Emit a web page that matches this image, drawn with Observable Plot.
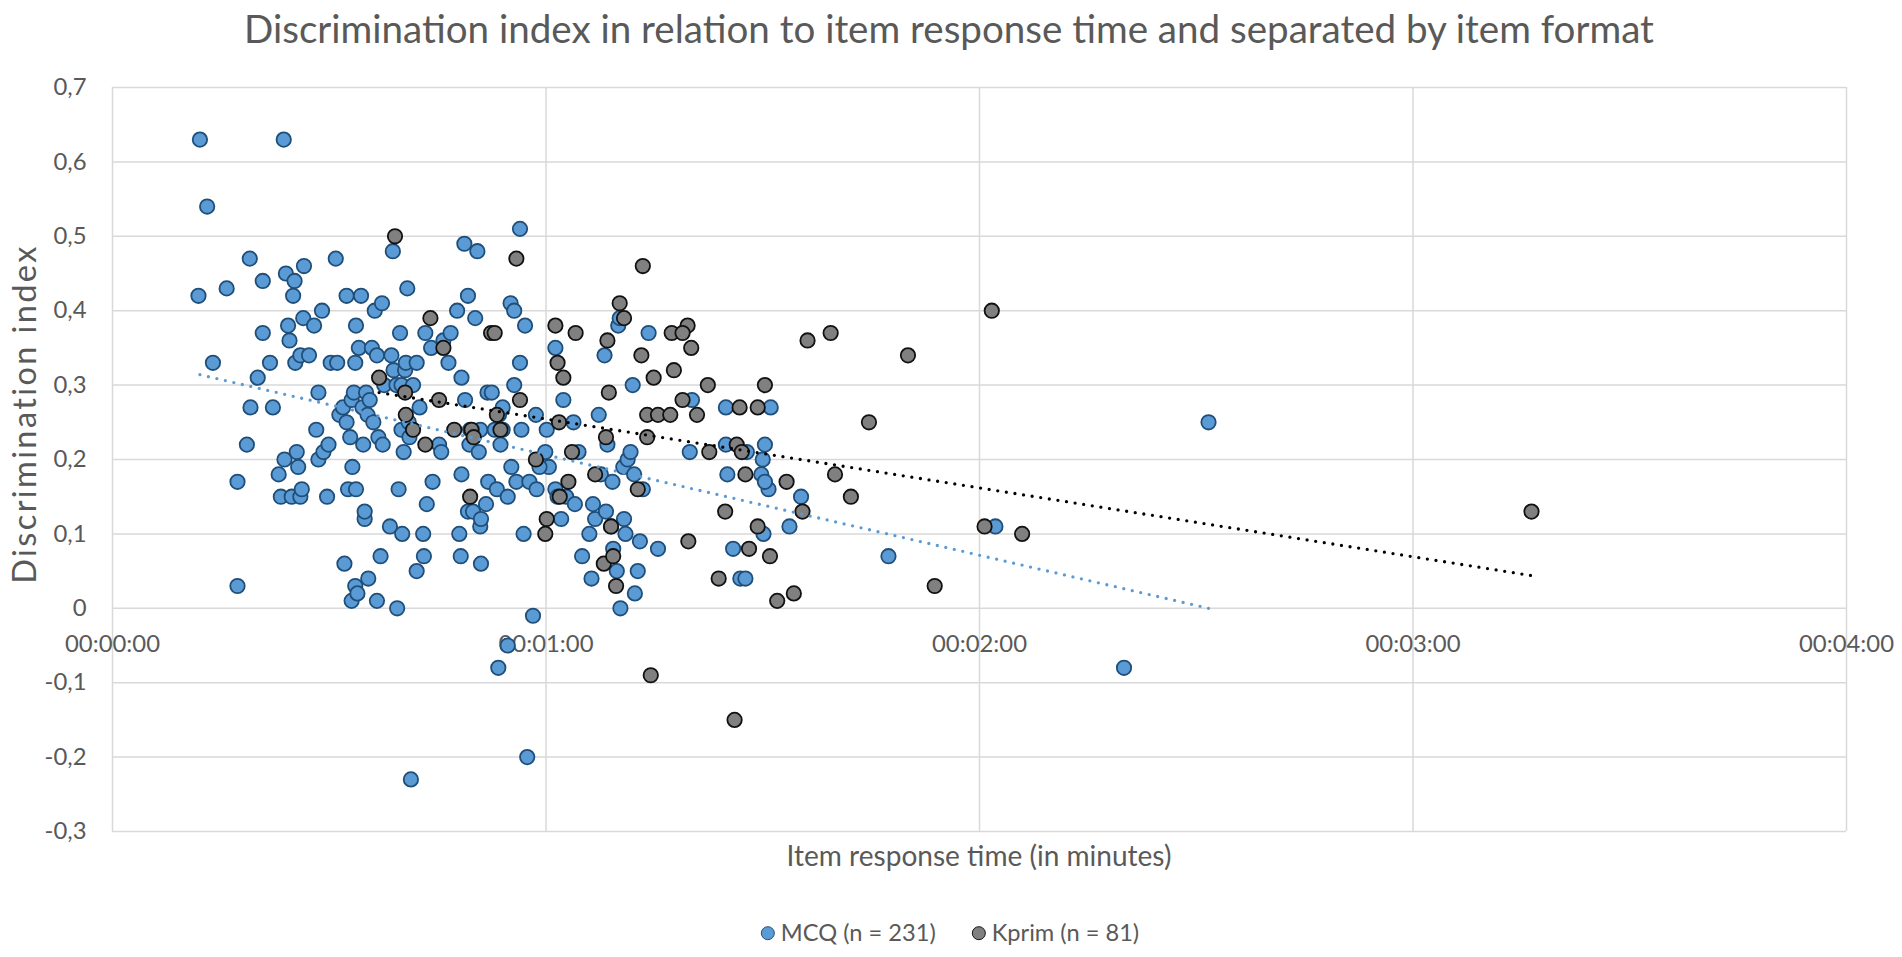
<!DOCTYPE html>
<html><head><meta charset="utf-8">
<script src="https://cdn.jsdelivr.net/npm/d3@7"></script>
<script src="https://cdn.jsdelivr.net/npm/@observablehq/plot@0.6"></script>
<style>
body{margin:0;background:#fff;}
#wrap{position:relative;width:1902px;height:957px;overflow:hidden;font-family:Lato,sans-serif;color:#595959;}
.abs{position:absolute;white-space:nowrap;line-height:1;}
.mk{display:inline-block;border-radius:50%;box-sizing:border-box;}
</style></head><body><div id="wrap"></div>
<script>
// ---- data (time in seconds, discrimination index) ----
const mcqTime = [12.1,23.7,13.1,11.9,13.9,15.8,19.0,17.3,17.3,18.6,
19.1,20.1,20.8,20.8,21.8,22.2,23.0,23.3,23.8,24.0,
24.3,24.5,24.8,25.0,25.2,25.3,25.5,25.7,26.0,26.0,
26.2,26.4,26.5,27.2,27.9,28.2,28.5,28.5,29.0,29.2,
29.7,29.9,30.2,30.9,31.1,31.4,31.9,32.1,32.4,32.4,
32.6,32.9,33.1,33.1,33.2,33.4,33.6,33.6,33.7,33.7,
33.9,34.1,34.4,34.6,34.7,34.9,34.9,35.1,35.3,35.4,
35.6,35.9,36.1,36.3,36.6,36.6,36.8,37.1,37.3,37.4,
37.6,38.4,38.6,38.8,38.9,39.3,39.4,39.6,39.8,40.0,
40.0,40.1,40.3,40.5,40.6,40.8,41.0,41.1,41.3,41.6,
42.1,42.1,42.5,43.0,43.1,43.3,43.5,44.1,44.3,45.2,
45.5,45.8,46.5,46.8,47.7,48.0,48.2,48.3,48.7,48.8,
49.2,49.2,49.4,49.5,49.9,50.2,50.5,50.7,50.9,50.9,
51.0,51.0,51.7,51.9,52.0,52.5,52.9,53.2,53.4,53.5,
53.7,54.0,54.7,54.7,55.1,55.2,55.6,55.6,55.9,56.4,
56.4,56.6,56.9,57.1,57.4,57.7,58.2,58.6,58.7,59.9,
60.1,60.4,61.3,61.3,61.6,62.1,62.4,62.8,63.8,64.0,
64.5,65.0,66.0,66.3,66.5,66.8,67.3,67.6,68.1,68.3,
68.5,69.0,69.2,69.3,69.8,70.0,70.2,70.3,70.7,70.8,
71.0,71.3,71.7,72.0,72.2,72.3,72.7,73.0,73.4,74.2,
75.5,79.9,80.2,84.9,85.1,90.1,85.9,86.9,87.6,84.9,
87.8,90.0,89.8,90.8,90.3,90.3,91.1,93.7,95.3,107.4,
122.2,140.0,151.7,48.3,54.0,59.1];
const mcqDisc = [0.63,0.63,0.54,0.42,0.33,0.43,0.47,0.17,0.03,0.22,
0.27,0.31,0.37,0.44,0.33,0.27,0.18,0.15,0.20,0.45,
0.38,0.36,0.15,0.42,0.44,0.33,0.21,0.19,0.34,0.15,
0.16,0.39,0.46,0.34,0.38,0.24,0.29,0.20,0.40,0.21,
0.15,0.22,0.33,0.47,0.33,0.26,0.27,0.06,0.42,0.25,
0.16,0.23,0.01,0.28,0.19,0.29,0.03,0.33,0.38,0.16,
0.02,0.35,0.42,0.27,0.22,0.12,0.13,0.29,0.26,0.04,
0.28,0.35,0.25,0.40,0.01,0.34,0.23,0.07,0.41,0.22,
0.30,0.11,0.34,0.48,0.32,0.30,0.00,0.16,0.37,0.30,
0.24,0.10,0.21,0.32,0.33,0.43,0.25,0.23,-0.23,0.30,
0.33,0.05,0.27,0.10,0.07,0.37,0.14,0.35,0.17,0.22,
0.21,0.36,0.33,0.37,0.40,0.10,0.07,0.18,0.49,0.28,
0.42,0.13,0.22,0.24,0.13,0.39,0.48,0.21,0.11,0.24,
0.12,0.06,0.14,0.29,0.17,0.29,0.24,0.16,-0.08,0.26,
0.22,0.24,-0.05,0.15,0.41,0.19,0.30,0.40,0.17,0.51,
0.33,0.24,0.10,0.38,-0.20,0.17,-0.01,0.26,0.16,0.21,
0.24,0.19,0.35,0.16,0.15,0.12,0.28,0.15,0.25,0.14,
0.21,0.07,0.10,0.04,0.14,0.12,0.26,0.18,0.34,0.13,
0.22,0.11,0.17,0.08,0.05,0.38,0.39,0.00,0.19,0.12,
0.10,0.20,0.21,0.30,0.18,0.02,0.05,0.09,0.16,0.37,
0.08,0.21,0.28,0.27,0.18,0.10,0.08,0.04,0.04,0.22,
0.21,0.20,0.18,0.16,0.17,0.22,0.27,0.11,0.15,0.07,
0.11,-0.08,0.25,0.31,0.27,0.19];
const kprimTime = [36.9,39.1,40.5,40.6,41.6,43.3,44.0,45.2,45.8,47.3,
49.5,49.7,50.0,52.4,52.9,53.2,53.7,55.9,56.4,58.6,
59.9,60.1,61.3,61.6,61.8,61.9,62.4,63.1,63.6,64.1,
66.8,68.0,68.3,68.5,68.7,69.0,69.3,69.7,70.2,70.8,
72.7,73.2,73.4,74.0,74.5,74.9,75.5,77.2,77.4,77.7,
78.9,79.6,78.9,79.7,80.1,80.9,82.4,82.6,83.9,84.8,
86.1,86.4,86.8,87.1,87.6,88.1,89.3,89.3,90.3,91.0,
92.0,93.3,94.3,95.5,96.2,99.4,100.0,102.2,104.7,110.1,
113.8,120.7,121.7,125.9,196.4,74.0];
const kprimDisc = [0.31,0.50,0.29,0.26,0.24,0.22,0.39,0.28,0.35,0.24,
0.15,0.24,0.23,0.37,0.37,0.26,0.24,0.47,0.28,0.20,
0.10,0.12,0.38,0.33,0.25,0.15,0.31,0.17,0.21,0.37,
0.18,0.06,0.23,0.36,0.29,0.11,0.07,0.03,0.41,0.39,
0.16,0.34,0.46,0.26,-0.09,0.31,0.26,0.26,0.37,0.32,
0.28,0.38,0.37,0.09,0.35,0.26,0.30,0.21,0.04,0.13,
-0.15,0.22,0.27,0.21,0.18,0.08,0.11,0.27,0.30,0.07,
0.01,0.17,0.02,0.13,0.36,0.37,0.18,0.15,0.25,0.34,
0.03,0.11,0.40,0.10,0.13,0.23];
// linear trendline end points
const mcqTrendTime = [12.1, 151.7];
const mcqTrendDisc = [0.314, 0.0];
const kprimTrendTime = [36.9, 196.4];
const kprimTrendDisc = [0.290, 0.044];
// axes
const xTicks = [0, 60, 120, 180, 240];
const xTickLabels = ["00:00:00","00:01:00","00:02:00","00:03:00","00:04:00"];
const yTicks = [-0.3,-0.2,-0.1,0,0.1,0.2,0.3,0.4,0.5,0.6,0.7];
const yTickLabels = ["-0,3","-0,2","-0,1","0","0,1","0,2","0,3","0,4","0,5","0,6","0,7"];
const titleText = "Discrimination index in relation to item response time and separated by item format";
const xTitle = "Item response time (in minutes)";
const yTitle = "Discrimination index";
const seriesNames = ["MCQ (n = 231)", "Kprim (n = 81)"];

// ---- helpers ----
const FONT = "Lato";
const ctx = document.createElement("canvas").getContext("2d");
function measure(text, fs){ ctx.font = `${fs}px ${FONT}`; return ctx.measureText(text).width; }
function fit(text, target){ return 100*target/measure(text,100); }
const tickFs = fit("00:00:00", 95);
const titleFs = fit(titleText, 1411);
const xTitleFs = fit(xTitle, 385);
const legFs = fit(seriesNames[0], 155);
const yTitleFs = xTitleFs * 1.16;
const yTitleSpacing = Math.max(0, (340 - measure(yTitle, yTitleFs)) / yTitle.length);

const mcq = mcqTime.map((t,i)=>({t, d:mcqDisc[i]}));
const kprim = kprimTime.map((t,i)=>({t, d:kprimDisc[i]}));
const mcqTrend = mcqTrendTime.map((t,i)=>({t, d:mcqTrendDisc[i]}));
const kprimTrend = kprimTrendTime.map((t,i)=>({t, d:kprimTrendDisc[i]}));
const yTickData = yTicks.map((v,i)=>({v, label:yTickLabels[i]}));
const xTickData = xTicks.map((v,i)=>({v, label:xTickLabels[i]}));

const TXT = "#595959", GRID = "#d9d9d9";
const chart = Plot.plot({
  width:1902, height:957,
  marginTop:87, marginBottom:126, marginLeft:112, marginRight:56,
  x:{domain:[0,240], axis:null},
  y:{domain:[-0.3,0.7], axis:null},
  style:{fontFamily:FONT, background:"transparent", overflow:"visible"},
  marks:[
    Plot.ruleY(yTicks, {stroke:GRID, strokeWidth:1.5}),
    Plot.ruleX(xTicks, {stroke:GRID, strokeWidth:1.5}),
    Plot.text(yTickData, {frameAnchor:"left", y:"v", text:"label", textAnchor:"end", dx:-26, fontSize:tickFs, fill:TXT}),
    Plot.text(xTickData, {x:"v", y:()=>0, text:"label", dy:36, fontSize:tickFs, fill:TXT}),
    Plot.dot(mcq, {x:"t", y:"d", r:7.2, fill:"#5b9bd5", stroke:"#1f4e79", strokeWidth:1.8}),
    Plot.dot(kprim, {x:"t", y:"d", r:7.2, fill:"#808080", stroke:"#111111", strokeWidth:1.8}),
    Plot.line(mcqTrend, {x:"t", y:"d", stroke:"#5b9bd5", strokeWidth:3.3, strokeDasharray:"0 8.7", strokeLinecap:"round"}),
    Plot.line(kprimTrend, {x:"t", y:"d", stroke:"#000000", strokeWidth:3.3, strokeDasharray:"0 8.7", strokeLinecap:"round"})
  ]
});
const wrap = document.getElementById("wrap");
wrap.appendChild(chart);
chart.style.position = "absolute"; chart.style.left = "0"; chart.style.top = "0";

function addText(text, fs, cx, cy, extra=""){
  const d = document.createElement("div");
  d.className = "abs"; d.textContent = text;
  d.style.fontSize = fs + "px"; d.style.left = cx + "px"; d.style.top = cy + "px";
  d.style.transform = "translate(-50%,-50%) " + extra;
  wrap.appendChild(d); return d;
}
addText(titleText, titleFs, 949, 28);
addText(xTitle, xTitleFs, 979, 855);
const yt = addText(yTitle, yTitleFs, 24, 414, "rotate(-90deg)");
yt.style.letterSpacing = yTitleSpacing + "px";

// legend
const leg = document.createElement("div");
leg.className = "abs";
leg.style.left = "950px"; leg.style.top = "933px"; leg.style.transform = "translate(-50%,-50%)";
leg.style.display = "flex"; leg.style.alignItems = "center"; leg.style.fontSize = legFs + "px";
const legColors = [["#5b9bd5","#1f4e79"],["#808080","#111111"]];
seriesNames.forEach((name,i)=>{
  const m = document.createElement("span"); m.className = "mk";
  m.style.width = "14px"; m.style.height = "14px";
  m.style.background = legColors[i][0]; m.style.border = `1.6px solid ${legColors[i][1]}`;
  m.style.marginRight = "6px"; if (i>0) m.style.marginLeft = "36px";
  const s = document.createElement("span"); s.textContent = name;
  leg.appendChild(m); leg.appendChild(s);
});
wrap.appendChild(leg);
</script></body></html>
